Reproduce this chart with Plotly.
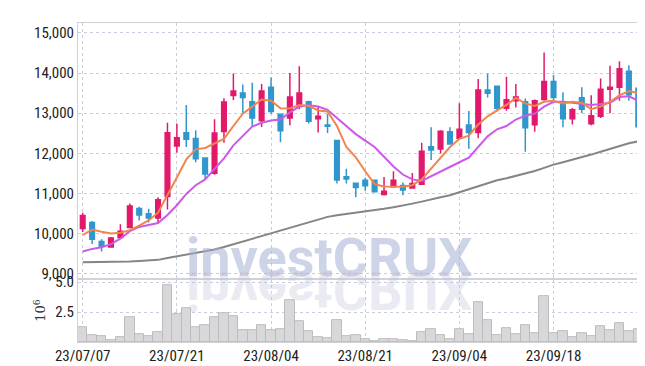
import plotly.graph_objects as go
from plotly.subplots import make_subplots

dates = ["23/07/07","23/07/10","23/07/11","23/07/12","23/07/13","23/07/14","23/07/17","23/07/18","23/07/19","23/07/20",
         "23/07/21","23/07/24","23/07/25","23/07/26","23/07/27","23/07/28","23/07/31","23/08/01","23/08/02","23/08/03",
         "23/08/04","23/08/07","23/08/08","23/08/09","23/08/10","23/08/11","23/08/14","23/08/16","23/08/17","23/08/18",
         "23/08/21","23/08/22","23/08/23","23/08/24","23/08/25","23/08/28","23/08/29","23/08/30","23/08/31","23/09/01",
         "23/09/04","23/09/05","23/09/06","23/09/07","23/09/08","23/09/11","23/09/12","23/09/13","23/09/14","23/09/15",
         "23/09/18","23/09/19","23/09/20","23/09/21","23/09/22","23/09/25","23/09/26","23/09/27","23/10/04","23/10/05"]

open_ = [10130,10283,9808,9671,9904,10154,10629,10500,10395,10927,
         12183,12513,12368,11885,11506,12545,13438,13503,13285,12810,
         13648,12971,12883,13165,13285,12859,12706,12319,11418,11257,
         11329,11329,10975,11168,11200,11136,11233,12166,12110,12537,
         12376,12706,12521,13575,13672,13124,13310,13285,12714,13342,
         13792,13269,12859,13382,12738,12923,13599,13648,14042,13623]
high = [10524,10315,9864,9920,10234,10750,10669,10621,10911,12762,
        12746,13205,12577,11893,12851,13374,13986,13712,13760,13728,
        13889,12988,14002,14171,13310,13181,12988,12319,11619,11257,
        11394,11345,11410,11555,11273,11514,12263,12649,12577,12649,
        13245,13052,13849,13986,13672,13905,13728,13366,13342,14509,
        13953,13519,13132,13648,13446,13865,14179,14292,14195,13784]
low = [10041,9743,9558,9655,9880,10138,10331,10283,10250,10605,
       12013,12158,11780,11345,11470,12263,13326,12979,12682,12658,
       12988,12279,12698,13100,12746,12521,12505,11249,11249,10911,
       11072,11031,10951,11152,10959,11120,11216,11836,11997,12215,
       12360,12118,12376,13390,13044,13060,13140,12038,12537,13310,
       13310,12649,12722,13004,12698,12883,13000,13310,13310,12300]
close = [10452,9864,9687,9896,10065,10693,10468,10395,10846,12513,
         12392,12352,11869,11490,12505,13277,13551,13390,12883,13551,
         13044,12561,13406,13503,12802,12923,12674,11337,11361,11152,
         11192,11047,11055,11329,11088,11249,12054,12086,12553,12231,
         12601,12521,13575,13495,13124,13334,13406,12641,13310,13792,
         13390,12859,13084,13100,12939,13599,13648,14106,13462,12666]

ma5 = [9969,10105,10049,10009,10025,10089,10202,10331,10524,10950,
       11400,11850,12100,12134,12239,12360,12682,12988,13165,13342,
       13310,13124,13116,13205,13181,13068,13044,12682,12158,11900,
       11555,11233,11176,11176,11168,11208,11353,11619,11893,12158,
       12360,12440,12722,12923,13070,13205,13382,13245,13181,13285,
       13310,13245,13285,13261,13100,13165,13285,13446,13551,13503]
ma20 = [9558,9623,9663,9743,9880,10065,10170,10218,10267,10468,
        10709,10991,11208,11353,11611,11877,12199,12440,12666,12762,
        12819,12843,13020,13165,13197,13165,13084,12883,12682,12480,
        12319,12158,11917,11675,11474,11353,11313,11434,11555,11675,
        11780,11893,12158,12424,12600,12682,12843,12939,12988,13165,
        13285,13285,13261,13229,13205,13229,13261,13406,13422,13310]
ma60 = [9293,9293,9293,9293,9300,9310,9320,9335,9350,9395,
        9440,9480,9520,9560,9610,9670,9740,9800,9870,9940,
        10010,10080,10150,10220,10290,10360,10420,10460,10490,10520,
        10545,10580,10620,10660,10700,10750,10800,10860,10910,10960,
        11030,11100,11180,11250,11330,11380,11440,11490,11560,11640,
        11720,11780,11840,11900,11970,12040,12110,12190,12250,12300]

volume_m = [1.21,0.56,0.46,0.13,0.40,2.10,0.65,0.48,0.81,4.78,
            2.35,2.83,1.21,1.38,2.11,2.43,2.19,0.96,0.96,1.38,
            0.96,1.05,3.48,1.78,0.90,0.41,0.33,1.86,0.50,0.59,
            0.24,0.08,0.27,0.27,0.16,0.08,0.80,1.06,0.59,0.27,
            1.06,0.66,3.35,1.86,0.58,1.14,0.66,1.38,0.74,3.85,
            0.74,0.90,0.42,0.73,0.49,1.30,0.98,1.54,0.90,1.06]

tick_dates = ["23/07/07","23/07/21","23/08/04","23/08/21","23/09/04","23/09/18"]
price_ticks = [9000,10000,11000,12000,13000,14000,15000]
vol_ticks = [2.5,5.0]

UP = "#e2196a"
DOWN = "#3097cc"
GRID = "#c9cde0"
TICKFONT = dict(family="Liberation Sans Narrow, Roboto Condensed, Roboto, sans-serif", size=15, color="#222222")

fig = make_subplots(rows=2, cols=1, shared_xaxes=True, vertical_spacing=0,
                    row_heights=[0.803, 0.197])

fig.add_trace(go.Candlestick(
    x=dates, open=open_, high=high, low=low, close=close,
    increasing=dict(line=dict(color=UP, width=1.5), fillcolor=UP),
    decreasing=dict(line=dict(color=DOWN, width=1.5), fillcolor=DOWN),
    whiskerwidth=0, showlegend=False), row=1, col=1)

fig.add_trace(go.Scatter(x=dates, y=ma60, mode="lines",
                         line=dict(color="#858585", width=2), showlegend=False), row=1, col=1)
fig.add_trace(go.Scatter(x=dates, y=ma20, mode="lines",
                         line=dict(color="#cc5ae8", width=2), showlegend=False), row=1, col=1)
fig.add_trace(go.Scatter(x=dates, y=ma5, mode="lines",
                         line=dict(color="#f0864e", width=2), showlegend=False), row=1, col=1)

fig.add_trace(go.Bar(x=dates, y=volume_m, marker=dict(color="#d8d8da", line=dict(color="#bcbcbf", width=1)),
                     showlegend=False), row=2, col=1)

axis_common = dict(showgrid=True, gridcolor=GRID, griddash="dot", gridwidth=1,
                   showline=True, linecolor="#d2d2d6", linewidth=1, mirror=True,
                   zeroline=False, ticks="")

fig.update_xaxes(type="category", categoryorder="array", categoryarray=dates,
                 tickmode="array", tickvals=tick_dates, ticktext=tick_dates,
                 range=[-0.5, len(dates) - 0.5], rangeslider_visible=False,
                 tickfont=TICKFONT, **axis_common)
fig.update_xaxes(showticklabels=False, row=1, col=1)

fig.update_yaxes(range=[8870, 15245], tickmode="array", tickvals=price_ticks,
                 tickformat=",", tickfont=TICKFONT, row=1, col=1, **axis_common)
fig.update_yaxes(range=[0, 5.25], tickmode="array", tickvals=vol_ticks,
                 tickformat=".1f", tickfont=TICKFONT, row=2, col=1,
                 title=dict(text="10<sup>6</sup>", font=dict(family="DejaVu Serif", size=13, color="#333"), standoff=6),
                 **axis_common)

wm_x = 0.445
fig.add_annotation(text="investCRUX", xref="paper", yref="paper", x=wm_x, y=0.264,
                   xanchor="center", yanchor="middle", showarrow=False,
                   font=dict(family="Roboto", size=54, color="rgba(165,176,214,0.55)", weight="bold"))
fig.add_annotation(text="investCRUX", xref="paper", yref="paper", x=wm_x, y=0.162,
                   xanchor="center", yanchor="middle", showarrow=False,
                   font=dict(family="Roboto", size=54, color="rgba(190,190,215,0.32)", weight="bold"))

fig.update_layout(width=645, height=366, margin=dict(l=70, r=10, t=9, b=29),
                  paper_bgcolor="white", plot_bgcolor="white", bargap=0,
                  showlegend=False)

post = """
var gd = document.getElementById('{plot_id}');
var t = gd.querySelectorAll('.annotation-text');
if (t.length > 1) {
  var el = t[t.length - 1];
  el.style.transformBox = 'fill-box';
  el.style.transformOrigin = 'center';
  el.style.transform = 'scaleY(-1)';
}
"""
fig.write_html("out.html", post_script=post)
